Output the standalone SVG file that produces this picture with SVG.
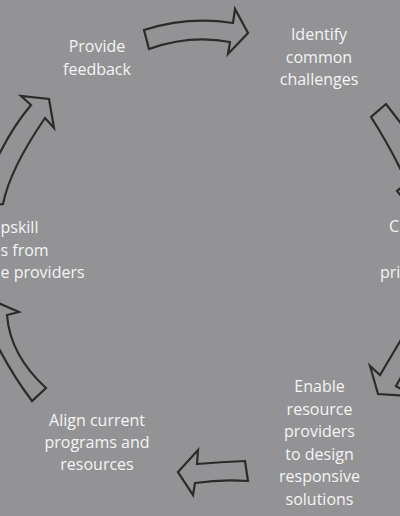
<svg xmlns="http://www.w3.org/2000/svg" width="400" height="516" viewBox="0 0 400 516">
<style>
.arrow{fill:#939396;stroke:#2b2b2b;stroke-width:2.2;stroke-linejoin:miter}
.lbl{font-family:"Open Sans","Noto Sans",sans-serif;font-size:16px;fill:#f4f4f4}
.c{text-anchor:middle}
</style>
<rect width="400" height="516" fill="#939396"/>
<g id="connectors">
<path id="a-top" class="arrow" d="M144,30 Q188,16 233,23 L235,9 L248,33 L228,54 L230,42 Q190,34.5 149,49 Z"/>
<path id="a-right-upper" class="arrow" d="M386,104 L371,117 Q386,140 402,172 L404,185 L397,191 L425,225 L440,170 L410,135 Z"/>
<path id="a-right-lower" class="arrow" d="M402,338 L380,375 L370,366 L378,394 L412,396 L396,386 L406,368 L420,340 Z"/>
<path id="a-bottom" class="arrow" d="M178,472 L198,450 L197,464 Q221,462 245,461 L248,481 Q222,479 195,483 L193,495 Z"/>
<path id="a-left-lower" class="arrow" d="M19,312 L7,315 Q10,355 46,388 L32,401 Q10,372 -8,335 L-30,320 L-20,295 Z"/>
<path id="a-left-upper" class="arrow" d="M31,105 L21,96 L49,99 L54,128 L45,118 Q10,169 3,204 L-12,206 L-6,165 Q10,130 31,105 Z"/>
</g>
<g id="n-feedback">
<text class="lbl c" x="97" y="52">Provide</text>
<text class="lbl c" x="97" y="74.5">feedback</text>
</g>
<g id="n-identify">
<text class="lbl c" x="319" y="40">Identify</text>
<text class="lbl c" x="319" y="62.5">common</text>
<text class="lbl c" x="319" y="85">challenges</text>
</g>
<g id="n-right">
<text class="lbl" x="389" y="232">C</text>
<text class="lbl" x="380" y="278">pri</text>
</g>
<g id="n-enable">
<text class="lbl c" x="319.5" y="392">Enable</text>
<text class="lbl c" x="319.5" y="414.5">resource</text>
<text class="lbl c" x="319.5" y="437">providers</text>
<text class="lbl c" x="319.5" y="459.5">to design</text>
<text class="lbl c" x="319.5" y="482">responsive</text>
<text class="lbl c" x="319.5" y="504.5">solutions</text>
</g>
<g id="n-align">
<text class="lbl c" x="97" y="426">Align current</text>
<text class="lbl c" x="97" y="448">programs and</text>
<text class="lbl c" x="97" y="470">resources</text>
</g>
<g id="n-upskill">
<text class="lbl" x="0.5" y="233">pskill</text>
<text class="lbl" x="0.5" y="255.5">s from</text>
<text class="lbl" x="0.5" y="277.5">e providers</text>
</g>
</svg>
